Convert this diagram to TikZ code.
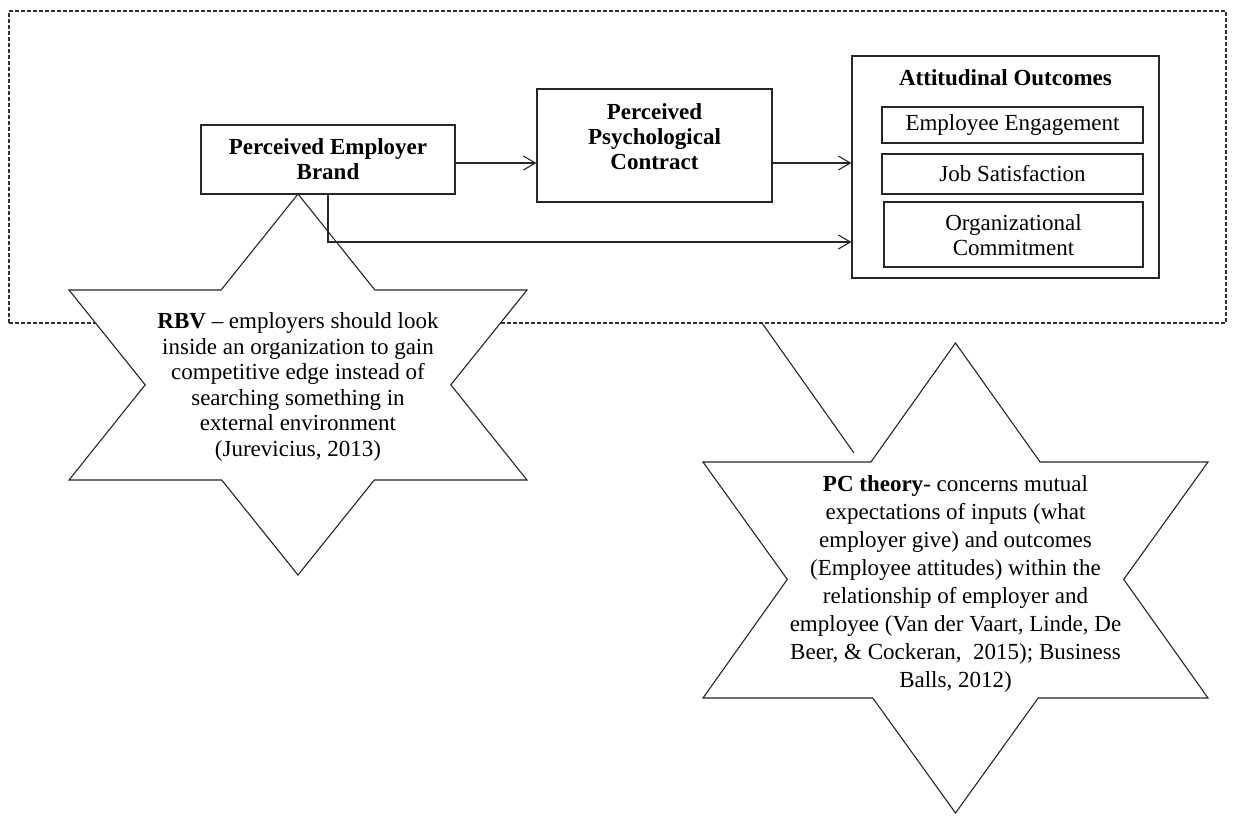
\documentclass[tikz,border=0pt]{standalone}
\usepackage{fontspec}
\setmainfont{Liberation Serif}
\usetikzlibrary{arrows.meta}
\begin{document}
\begin{tikzpicture}[x=0.5pt,y=-0.5pt,
  box/.style={draw=black!85, line width=0.55pt, inner sep=0pt, fill=white},
  conn/.style={draw=black!85, line width=0.55pt, -{Straight Barb[length=6pt,width=7pt,line width=0.55pt]}},
  plain/.style={draw=black!85, line width=0.55pt},
  frame/.style={draw=black!80, line width=0.55pt, dash pattern=on 2pt off 1pt, inner sep=0pt},
  starshape/.style={draw=black!85, fill=white, line width=0.55pt},
  btxt/.style={font=\fontsize{11.5}{12.5}\selectfont\bfseries, align=center, inner sep=0pt},
  rtxt/.style={font=\fontsize{11.5}{12.5}\selectfont, align=center, inner sep=0pt},
  rbvtxt/.style={font=\fontsize{11.5}{12.8}\selectfont, align=center, inner sep=0pt},
  pctxt/.style={font=\fontsize{11.5}{14}\selectfont, align=center, inner sep=0pt}]
\useasboundingbox (0,0) rectangle (1233,816);

% dashed frame
\node[frame, minimum width=608.5pt, minimum height=156pt] (frame) at (617.5,167) {};

% stars
\filldraw[starshape] (298,194) -- (374.9,290) -- (527,290) -- (450.8,384.8) -- (527,480) -- (374.3,480) -- (298,575) -- (221.7,480) -- (69,480) -- (145.2,384.8) -- (69,290) -- (221.1,290) -- cycle;
\filldraw[starshape] (955.5,343) -- (1040.1,462) -- (1208,462) -- (1123.7,579.4) -- (1208,698) -- (1038.2,698) -- (955.5,813) -- (872.8,698) -- (703,698) -- (787.3,579.4) -- (703,462) -- (870.9,462) -- cycle;

% boxes
\node[box, minimum width=127pt, minimum height=34.5pt] (peb) at (328,159.5) {};
\node[btxt] (pebt) at (328,159.5) {Perceived Employer\\Brand};

\node[box, minimum width=117.5pt, minimum height=56.5pt] (ppc) at (654.5,145.5) {};
\node[btxt] (ppct) at (654.5,136.5) {Perceived\\Psychological\\Contract};

\node[box, minimum width=153.5pt, minimum height=111pt] (ao) at (1005.5,167) {};
\node[btxt] (aot) at (1005.5,78) {Attitudinal Outcomes};
\node[box, minimum width=130.5pt, minimum height=18pt] (ee) at (1012.5,125) {};
\node[rtxt] (eet) at (1012.5,125) {Employee Engagement};
\node[box, minimum width=130.5pt, minimum height=20pt] (js) at (1012.5,174) {};
\node[rtxt] (jst) at (1012.5,174) {Job Satisfaction};
\node[box, minimum width=129.5pt, minimum height=32.5pt] (oc) at (1013.5,234.5) {};
\node[rtxt] (oct) at (1013.5,235) {Organizational\\Commitment};

% connectors
\coordinate (ya) at (0,163);
\coordinate (yb) at (0,242);
\draw[conn] (peb.east |- ya) -- (ppc.west |- ya);
\draw[conn] (ppc.east |- ya) -- (ao.west |- ya);
\draw[conn] (peb.south) |- (ao.west |- yb);
\coordinate (d1) at (762,323);
\coordinate (d2) at (854,453);
\draw[plain] (d1) -- (d2);

% star texts
\node[rbvtxt] (rbv) at (298,387) {\textbf{RBV} -- employers should look\\inside an organization to gain\\competitive edge instead of\\searching something in\\external environment\\(Jurevicius, 2013)};
\node[pctxt] (pct) at (955.5,584) {\textbf{PC theory}- concerns mutual\\expectations of inputs (what\\employer give) and outcomes\\(Employee attitudes) within the\\relationship of employer and\\employee (Van der Vaart, Linde, De\\Beer, \& Cockeran,~ 2015); Business\\Balls, 2012)};
\end{tikzpicture}
\end{document}
